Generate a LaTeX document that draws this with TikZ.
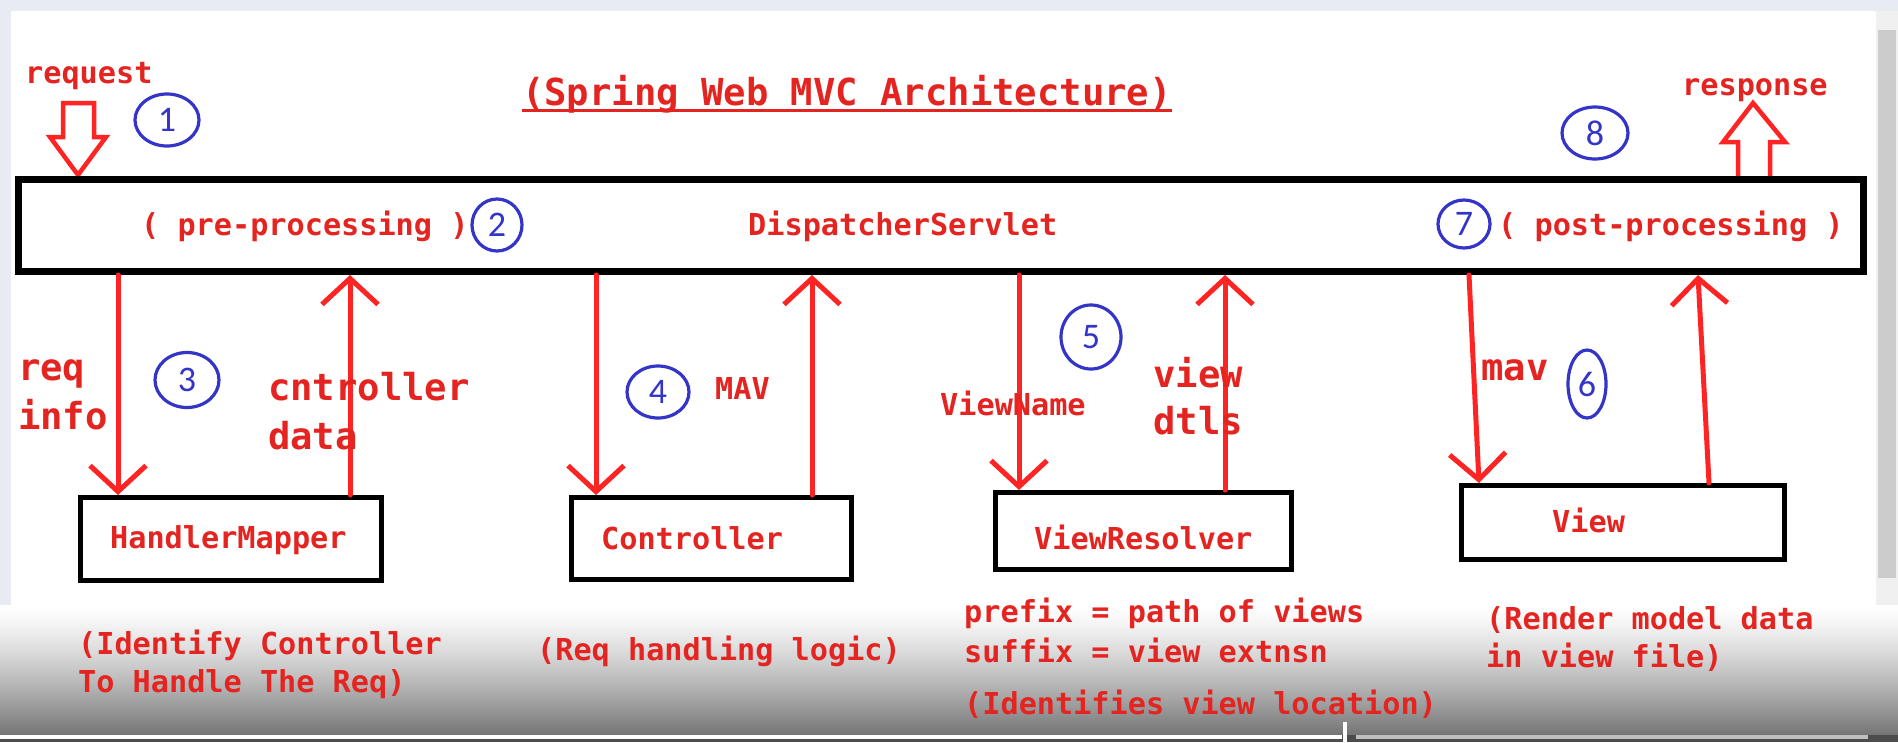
\documentclass[tikz,border=0pt]{standalone}
\usepackage{fontspec}
\setmonofont{DejaVu Sans Mono}
\newfontfamily\numfont{Carlito}
\usetikzlibrary{arrows.meta,shapes.geometric,calc}
\definecolor{txtred}{RGB}{228,36,32}
\definecolor{arrred}{RGB}{255,36,36}
\definecolor{cblue}{RGB}{52,52,200}
\definecolor{gridbg}{RGB}{232,236,242}
\tikzset{
  x=1pt,y=-1pt,
  txt/.style={text=txtred,font=\fontsize{30.2}{36}\selectfont\ttfamily\bfseries,
    inner sep=0pt,anchor=west,text height=21pt,text depth=6pt,yshift=-2.5pt},
  txtL/.style={txt,font=\fontsize{37.2}{44}\selectfont\ttfamily\bfseries,
    text height=26pt,text depth=7pt},
  num/.style={ellipse,draw=cblue,line width=3.2pt,text=cblue,
    font=\fontsize{36}{38}\selectfont\numfont,inner sep=0pt},
  mainbox/.style={draw=black,line width=7pt,inner sep=0pt},
  compbox/.style={draw=black,line width=5pt,inner sep=0pt,fill=white},
  flow/.style={draw=arrred,line width=5pt,line cap=round,
    -{Straight Barb[length=26pt,width=56pt,line width=5pt]}},
  hollow/.style={draw=arrred,line width=4.5pt,line join=miter,fill=white},
}
\begin{document}
\begin{tikzpicture}
% background / screen frame
\useasboundingbox (0,0) rectangle (1898,742);
\fill[white] (0,0) rectangle (1898,742);
\fill[gridbg] (0,0) rectangle (1898,11);
\fill[gridbg] (0,0) rectangle (11,742);
\fill[black!6] (1876,11) rectangle (1898,735);
\fill[black!20] (1878,30) rectangle (1896,578);
\foreach \i in {0,...,129}{
  \pgfmathsetmacro\g{54*((\i+0.5)/130)^1.3}
  \fill[black!\g] (0,605+\i) rectangle (1898,606.3+\i);
}
\fill[black!70] (0,735) rectangle (1898,742);
\fill[white] (0,735) rectangle (1342,739);
\fill[black!25] (1356,735) rectangle (1868,739);
\fill[white] (1343,722) rectangle (1347,742);

% title
\node[txtL] (title) at (522,93) {(Spring Web MVC Architecture)};
\draw[txtred,line width=3pt] (title.south west |- 0,110) -- (title.south east |- 0,110);

% request / response hollow arrows
\node[txt] (req) at (25,73) {request};
\node[txt] (resp) at (1682,85) {response};
\draw[hollow] (63,103) -- (94,103) -- (94,137) -- (106,137) -- (78,175)
  -- (50,137) -- (63,137) -- cycle;
\draw[hollow] (1738,179) -- (1738,142) -- (1723,142) -- (1753,103)
  -- (1785,142) -- (1770,142) -- (1770,179);

% DispatcherServlet box
\node[mainbox,minimum width=1845pt,minimum height=92pt] (ds) at (941,225.5) {};
\node[txt] (pre) at (141,225) {( pre-processing )};
\node[txt] (dst) at (748,225) {DispatcherServlet};
\node[txt] (post) at (1498,225) {( post-processing )};

% component boxes
\node[compbox,minimum width=301pt,minimum height=83pt] (hm) at (231,539) {};
\node[compbox,minimum width=280pt,minimum height=82pt] (ctl) at (711.5,538.5) {};
\node[compbox,minimum width=296pt,minimum height=77pt] (vr) at (1143.5,531) {};
\node[compbox,minimum width=323pt,minimum height=74pt] (vw) at (1623,522.5) {};
\node[txt] (hmt) at (110,538) {HandlerMapper};
\node[txt] (ctlt) at (601,539) {Controller};
\node[txt] (vrt) at (1034,539.5) {ViewResolver};
\node[txt] (vwt) at (1552,522.5) {View};

% flow arrows
\coordinate (xa) at (118,0);
\coordinate (xb) at (350,0);
\coordinate (xc) at (596,0);
\coordinate (xd) at (812,0);
\coordinate (xe) at (1019,0);
\coordinate (xf) at (1225,0);
\coordinate (xg1) at (1469,0);
\coordinate (xg2) at (1479,0);
\coordinate (xh1) at (1709,0);
\coordinate (xh2) at (1698,0);
\draw[flow] (ds.south -| xa) -- (hm.north -| xa);
\draw[flow] (hm.north -| xb) -- (ds.south -| xb);
\draw[flow] (ds.south -| xc) -- (ctl.north -| xc);
\draw[flow] (ctl.north -| xd) -- (ds.south -| xd);
\draw[flow] (ds.south -| xe) -- (vr.north -| xe);
\draw[flow] (vr.north -| xf) -- (ds.south -| xf);
\draw[flow] (ds.south -| xg1) -- (vw.north -| xg2);
\draw[flow] (vw.north -| xh1) -- (ds.south -| xh2);

% arrow labels
\node[txtL] (l1a) at (18,368.5) {req};
\node[txtL] (l1b) at (18,417.5) {info};
\node[txtL] (l2a) at (268,388.5) {cntroller};
\node[txtL] (l2b) at (268,437.5) {data};
\node[txt] (l3) at (715,389.5) {MAV};
\node[txt] (l4) at (940,405.5) {ViewName};
\node[txtL] (l5a) at (1153,375.5) {view};
\node[txtL] (l5b) at (1153,422.5) {dtls};
\node[txtL] (l6) at (1481,368.5) {mav};

% step numbers
\node[num,minimum width=64pt,minimum height=52pt] (n1) at (167,120) {1};
\node[num,minimum width=50pt,minimum height=52pt] (n2) at (497,225) {2};
\node[num,minimum width=64pt,minimum height=55pt] (n3) at (187,380) {3};
\node[num,minimum width=62pt,minimum height=52pt] (n4) at (658,392) {4};
\node[num,minimum width=60pt,minimum height=64pt] (n5) at (1091,337) {5};
\node[num,minimum width=38pt,minimum height=68pt] (n6) at (1587,384) {6};
\node[num,minimum width=52pt,minimum height=48pt] (n7) at (1464,224) {7};
\node[num,minimum width=66pt,minimum height=52pt] (n8) at (1595,133) {8};

% descriptions
\node[txt] (d1a) at (78,644.5) {(Identify Controller};
\node[txt] (d1b) at (78,682.5) {To Handle The Req)};
\node[txt] (d2) at (537,650.5) {(Req handling logic)};
\node[txt] (d3a) at (964,612.5) {prefix = path of views};
\node[txt] (d3b) at (964,652.5) {suffix = view extnsn};
\node[txt] (d3c) at (964,704.5) {(Identifies view location)};
\node[txt] (d4a) at (1486,619.5) {(Render model data};
\node[txt] (d4b) at (1486,657.5) {in view file)};
\end{tikzpicture}
\end{document}
